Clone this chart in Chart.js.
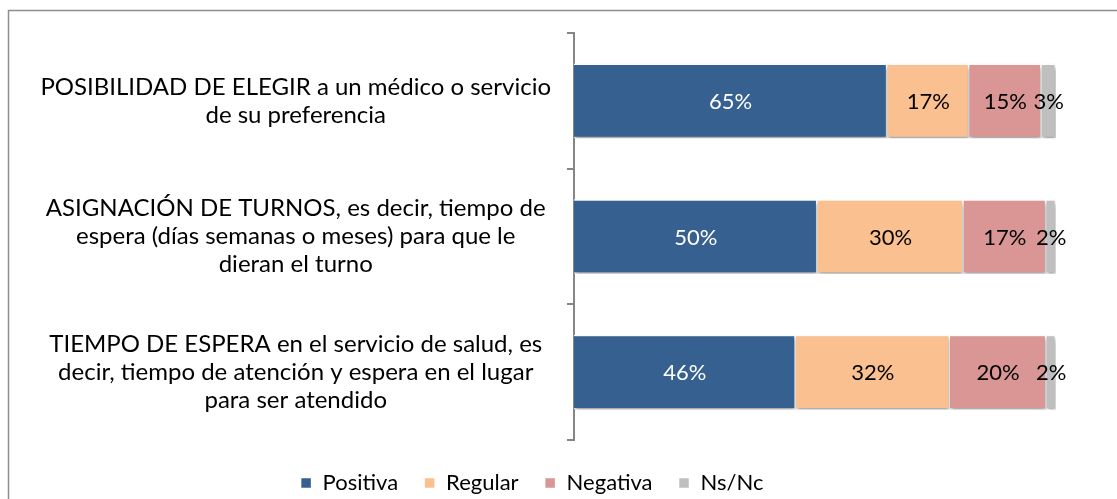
<!DOCTYPE html>
<html>
<head>
<meta charset="utf-8">
<script src="https://cdn.jsdelivr.net/npm/chart.js@4/dist/chart.umd.min.js"></script>
<style>
  html, body { margin: 0; padding: 0; background: #fff; }
  #wrap { width: 1117px; height: 499px; position: relative; }
</style>
</head>
<body>
<div id="wrap"><canvas id="chartEval"></canvas></div>
<script>
var categories = [
    ['POSIBILIDAD DE ELEGIR a un médico o servicio', 'de su preferencia'],
    ['ASIGNACIÓN DE TURNOS, es decir, tiempo de', 'espera (días semanas o meses) para que le', 'dieran el turno'],
    ['TIEMPO DE ESPERA en el servicio de salud, es', 'decir, tiempo de atención y espera en el lugar', 'para ser atendido']
];
var positiva = [65, 50, 46];
var regular = [17, 30, 32];
var negativa = [15, 17, 20];
var nsnc = [3, 2, 2];

var seriesNames = ['Positiva', 'Regular', 'Negativa', 'Ns/Nc'];
var colours = ['#36608f', '#fac090', '#d99694', '#bfbfbf'];
var series = [positiva, regular, negativa, nsnc];

// 100% stacked: each row is scaled to its own total
var totals = categories.map(function (c, j) {
    return positiva[j] + regular[j] + negativa[j] + nsnc[j];
});

var outputData = [];
for (var i = 0; i < series.length; i++) {
    outputData.push({
        label: seriesNames[i],
        backgroundColor: colours[i],
        borderColor: '#ffffff',
        borderWidth: 1.5,
        raw: series[i],
        data: series[i].map(function (v, j) { return v / totals[j] * 100; }),
        barPercentage: 0.55,
        categoryPercentage: 1
    });
}

var fontFamily = 'Lato, "Open Sans", sans-serif';

const frame = {
    id: 'frame',
    beforeDraw(chart) {
        var ctx = chart.ctx;
        ctx.save();
        ctx.strokeStyle = '#8e8e8e';
        ctx.lineWidth = 1.5;
        ctx.strokeRect(8.5, 10.5, 1300, 700);
        ctx.restore();
    }
};

const shadow = {
    id: 'shadow',
    beforeDatasetsDraw(chart) {
        var ctx = chart.ctx;
        ctx.save();
        ctx.shadowColor = 'rgba(0,0,0,0.35)';
        ctx.shadowBlur = 4;
        ctx.shadowOffsetX = 1;
        ctx.shadowOffsetY = 3;
    },
    afterDatasetsDraw(chart) {
        chart.ctx.restore();
    }
};

const barLabels = {
    id: 'barLabels',
    afterDatasetsDraw(chart) {
        var ctx = chart.ctx;
        ctx.save();
        ctx.font = '22px ' + fontFamily;
        ctx.textAlign = 'center';
        ctx.textBaseline = 'middle';
        chart.data.datasets.forEach(function (ds, i) {
            chart.getDatasetMeta(i).data.forEach(function (bar, j) {
                var p = bar.getCenterPoint();
                ctx.fillStyle = i === 0 ? '#ffffff' : '#000000';
                ctx.fillText(ds.raw[j] + '%', p.x, p.y + 1);
            });
        });
        ctx.restore();
    }
};

const config = {
    type: 'bar',
    data: {
        labels: categories,
        datasets: outputData
    },
    options: {
        indexAxis: 'y',
        animation: false,
        responsive: true,
        maintainAspectRatio: false,
        layout: {
            padding: { top: 33, left: 8, right: 61, bottom: -5 }
        },
        scales: {
            x: {
                display: false,
                stacked: true,
                min: 0,
                max: 100
            },
            y: {
                stacked: true,
                afterFit: function (scale) {
                    scale.width = 566;
                    scale.paddingTop = 0;
                    scale.paddingBottom = 0;
                },
                border: { display: true, color: '#868686', width: 2 },
                grid: {
                    drawOnChartArea: false,
                    color: '#868686',
                    lineWidth: 2,
                    tickLength: 7
                },
                ticks: {
                    crossAlign: 'center',
                    padding: 16,
                    color: '#000000',
                    font: { family: fontFamily, size: 24, lineHeight: 1.17 }
                }
            }
        },
        plugins: {
            legend: {
                position: 'bottom',
                title: { display: true, text: '', font: { size: 4, lineHeight: 1 }, padding: 1 },
                labels: {
                    boxWidth: 11,
                    boxHeight: 11,
                    padding: 26,
                    color: '#000000',
                    font: { family: fontFamily, size: 22 }
                }
            },
            tooltip: { enabled: false }
        }
    },
    plugins: [frame, shadow, barLabels]
};

new Chart(document.getElementById('chartEval'), config);
</script>
</body>
</html>
